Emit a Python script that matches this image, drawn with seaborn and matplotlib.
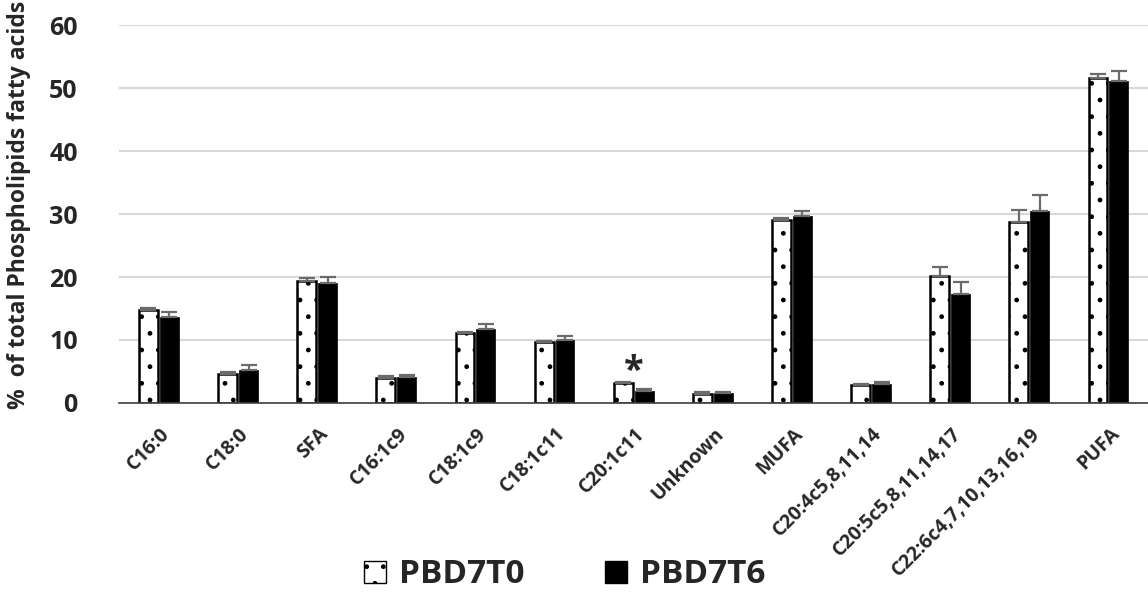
import numpy as np
import pandas as pd
import matplotlib
matplotlib.use("Agg")
import matplotlib.pyplot as plt
import matplotlib.patches as mpatches
import matplotlib.transforms as mtransforms
import seaborn as sns

# Data
categories = ["C16:0", "C18:0", "SFA", "C16:1c9", "C18:1c9", "C18:1c11", "C20:1c11",
              "Unknown", "MUFA", "C20:4c5,8,11,14", "C20:5c5,8,11,14,17",
              "C22:6c4,7,10,13,16,19", "PUFA"]
t0_mean = [14.7, 4.6, 19.3, 4.0, 11.1, 9.7, 3.1, 1.4, 29.1, 2.9, 20.1, 28.7, 51.6]
t0_err = [0.3, 0.3, 0.5, 0.3, 0.2, 0.15, 0.3, 0.4, 0.25, 0.15, 1.5, 2.0, 0.6]
t6_mean = [13.6, 5.3, 19.0, 4.2, 11.8, 10.0, 1.9, 1.6, 29.7, 3.0, 17.3, 30.5, 51.1]
t6_err = [0.8, 0.8, 1.0, 0.3, 0.8, 0.6, 0.25, 0.2, 0.85, 0.3, 1.9, 2.5, 1.6]
groups = ["PBD7T0", "PBD7T6"]
signif = {"C20:1c11": 5.0}

df = pd.DataFrame({
    "cat": categories * 2,
    "group": [groups[0]] * len(categories) + [groups[1]] * len(categories),
    "value": t0_mean + t6_mean,
    "err": t0_err + t6_err,
})

sns.set_style("white")
plt.rcParams["font.family"] = ["Open Sans", "DejaVu Sans"]
plt.rcParams["hatch.linewidth"] = 1.0

fig = plt.figure(figsize=(11.48, 5.97), dpi=100)
ax = fig.add_axes([0.104, 0.325, 0.896, 0.633])

sns.barplot(data=df, x="cat", y="value", hue="group", order=categories,
            hue_order=groups, palette=["white", "black"], width=0.53, gap=0.1,
            errorbar=None, legend=False, ax=ax)

n = len(categories)
for i, p in enumerate(ax.patches[:2 * n]):
    if i < n:
        p.set_facecolor("white")
        p.set_edgecolor("black")
        p.set_hatch(".")
        p.set_linewidth(1.8)
    else:
        p.set_facecolor("black")
        p.set_edgecolor("black")
        p.set_linewidth(0.5)
    x = p.get_x() + p.get_width() / 2
    ax.errorbar(x, df["value"].iloc[i], yerr=[[0], [df["err"].iloc[i]]],
                fmt="none", ecolor="#6b6b6b", elinewidth=1.6, capsize=6,
                capthick=1.6, zorder=1)

for c, yv in signif.items():
    ax.text(categories.index(c), yv, "*", ha="center", va="center",
            fontsize=26, fontweight="bold")

ax.set_ylim(0, 60)
ax.set_xlim(-0.5, n - 0.5)
ax.set_yticks(range(0, 61, 10))
ax.yaxis.grid(True, color="#d9d9d9", linewidth=1.5)
ax.set_axisbelow(True)
for s in ["top", "right", "left"]:
    ax.spines[s].set_visible(False)
ax.spines["bottom"].set_color("#404040")
ax.spines["bottom"].set_linewidth(1.2)
ax.tick_params(axis="both", length=0)
ax.tick_params(axis="y", labelsize=18, pad=30)
for t in ax.get_yticklabels():
    t.set_fontweight("bold")
ax.set_xticks(range(n))
ax.set_xticklabels(categories, rotation=45, ha="right", va="top",
                   rotation_mode="anchor", fontsize=14, fontweight="bold")
ax.tick_params(axis="x", pad=15)
shift = mtransforms.ScaledTranslation(1 / 100, 0, fig.dpi_scale_trans)
for t in ax.get_xticklabels():
    t.set_transform(t.get_transform() + shift)
ax.set_xlabel("")
ax.set_ylabel("%  of total Phospholipids fatty acids", fontsize=16.5,
              fontweight="bold")
ax.yaxis.set_label_coords(-0.086, 0.525)

handles = [mpatches.Patch(facecolor="white", edgecolor="black", hatch=".", linewidth=1.0),
           mpatches.Patch(facecolor="black", edgecolor="black")]
fig.legend(handles, groups, loc="center", bbox_to_anchor=(0.492, 0.037), ncol=2,
           frameon=False, prop={"size": 24, "weight": "bold"},
           handlelength=0.65, handleheight=0.65, handletextpad=0.4, columnspacing=2.4)

fig.savefig("out.png", dpi=100)
